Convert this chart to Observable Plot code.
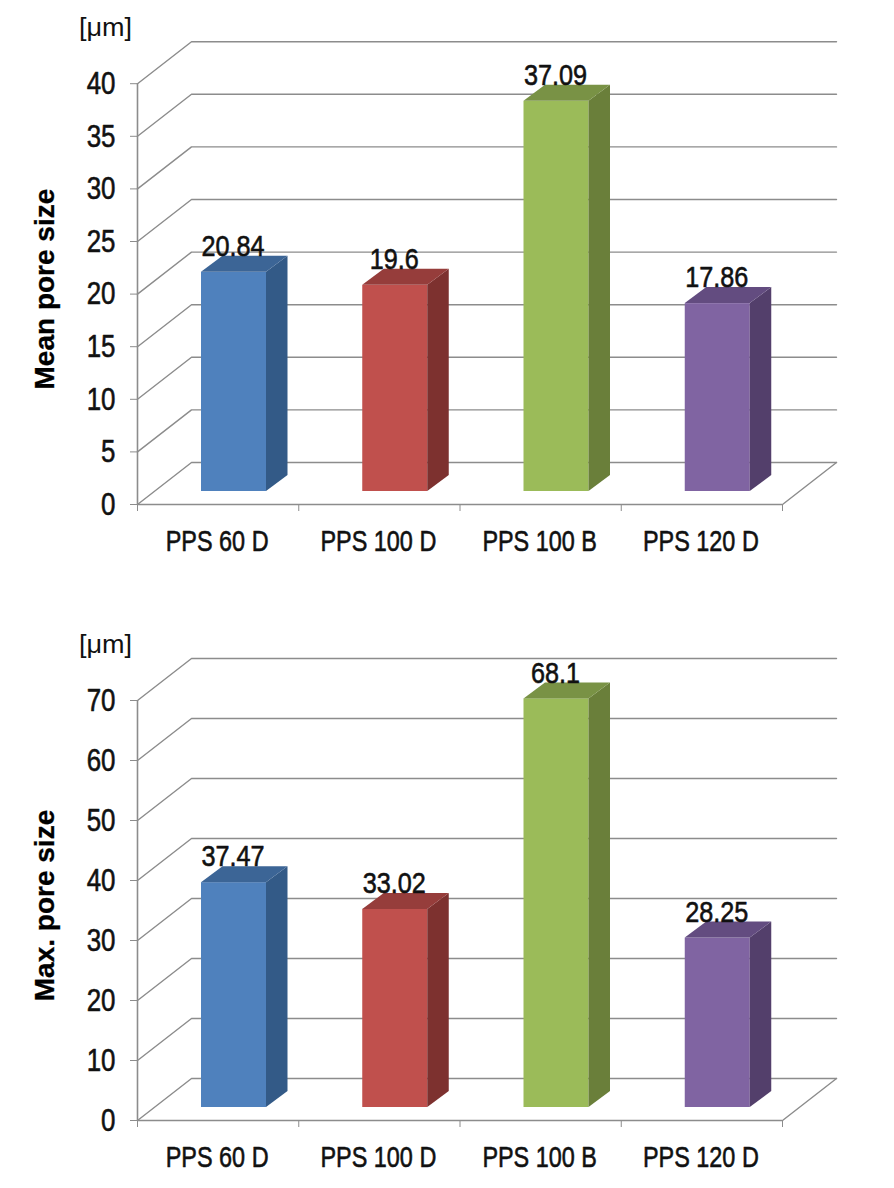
<!DOCTYPE html>
<html>
<head>
<meta charset="utf-8">
<script src="https://cdn.jsdelivr.net/npm/d3@7"></script>
<script src="https://cdn.jsdelivr.net/npm/@observablehq/plot@0.6"></script>
<style>
  html, body { margin: 0; padding: 0; background: #fff; }
  svg { display: block; }
</style>
</head>
<body>
<div id="top"></div>
<div id="bottom"></div>
<script>
const categories = ["PPS 60 D", "PPS 100 D", "PPS 100 B", "PPS 120 D"];
const meanValues = [20.84, 19.6, 37.09, 17.86];
const meanLabels = ["20.84", "19.6", "37.09", "17.86"];
const maxValues = [37.47, 33.02, 68.1, 28.25];
const maxLabels = ["37.47", "33.02", "68.1", "28.25"];
const meanTicks = [0, 5, 10, 15, 20, 25, 30, 35, 40];
const maxTicks = [0, 10, 20, 30, 40, 50, 60, 70];
const frontColors = ["#4F81BD", "#C0504D", "#9BBB59", "#8064A2"];
const sideColors = ["#335A87", "#7D312F", "#6A7F3A", "#533F6B"];
const topColors = ["#3C6596", "#963D3B", "#799245", "#634C80"];

const FONT = "'Liberation Sans', sans-serif";
const GRID = "#8c8c8c";

function chart(values, labels, ticks, title, yBottom, pxPerUnit) {
  const yMax = ticks[ticks.length - 1];
  const wallY = 42 / pxPerUnit;
  const wallX = 54 / 161.25;
  const barDepthY = 16 / pxPerUnit;
  const barDepthX = 21.5 / 161.25;
  const baseY = 13 / pxPerUnit;
  const barStart = 64 / 161.25;
  const barWidth = 65 / 161.25;

  const bars = categories.map((c, i) => ({
    i, c, v: values[i], label: labels[i],
    l: i + barStart, r: i + barStart + barWidth,
    b: baseY, t: baseY + values[i]
  }));
  const gridPts = ticks.flatMap(v => [
    {g: v, x: 0, y: v},
    {g: v, x: wallX, y: v + wallY},
    {g: v, x: categories.length + wallX, y: v + wallY}
  ]);
  const sidePts = bars.flatMap(d => [
    {i: d.i, x: d.r, y1: d.b, y2: d.t, f: sideColors[d.i]},
    {i: d.i, x: d.r + barDepthX, y1: d.b + barDepthY, y2: d.t + barDepthY, f: sideColors[d.i]}
  ]);
  const topPts = bars.flatMap(d => [
    {i: d.i, y: d.t, x1: d.l, x2: d.r, f: topColors[d.i]},
    {i: d.i, y: d.t + barDepthY, x1: d.l + barDepthX, x2: d.r + barDepthX, f: topColors[d.i]}
  ]);
  const n = categories.length;
  const plotTop = yBottom - (yMax * pxPerUnit + 42);

  return Plot.plot({
    width: 894,
    height: 594,
    marginLeft: 137, marginRight: 58, marginTop: plotTop, marginBottom: 594 - yBottom,
    style: {background: "#fff", fontFamily: FONT},
    color: {type: "identity"},
    x: {domain: [0, n + wallX], axis: null},
    y: {domain: [0, yMax + wallY], axis: null},
    marks: [
      Plot.line(gridPts, {x: "x", y: "y", z: "g", stroke: GRID, strokeWidth: 1.4}),
      Plot.line([{x: n, y: 0}, {x: n + wallX, y: wallY}], {x: "x", y: "y", stroke: GRID, strokeWidth: 1.4}),
      Plot.ruleX([0], {y1: 0, y2: yMax, stroke: GRID, strokeWidth: 1.6}),
      Plot.ruleY([0], {x1: 0, x2: n, stroke: GRID, strokeWidth: 1.6}),
      Plot.axisY({
        ticks, tickSize: 7, tickPadding: 15, anchor: "left", label: null,
        stroke: GRID, fontSize: 32, fill: "#111", fontFamily: FONT,
        className: "narrow-tick", textStroke: "#111", textStrokeWidth: 0.6
      }),
      Plot.axisX({
        ticks: d3.range(n + 1), tickSize: 7, tickFormat: () => "",
        stroke: GRID, label: null, anchor: "bottom"
      }),
      Plot.text(categories, {
        x: (d, i) => i + 0.5, y: 0, text: d => d, dy: 37, dx: -1,
        fontSize: 30, fill: "#111", fontFamily: FONT, stroke: "#111", strokeWidth: 0.6,
        className: "narrow-cat"
      }),
      Plot.rectY(bars, {x1: "l", x2: "r", y1: "b", y2: "t", fill: d => frontColors[d.i], inset: 0}),
      Plot.areaY(sidePts, {x: "x", y1: "y1", y2: "y2", z: "i", fill: "f"}),
      Plot.areaX(topPts, {y: "y", x1: "x1", x2: "x2", z: "i", fill: "f"}),
      Plot.text(bars, {
        x: d => (d.l + d.r) / 2, y: "t", text: "label", dy: -26, dx: -1,
        fontSize: 30, fill: "#111", fontFamily: FONT, stroke: "#111", strokeWidth: 0.6,
        className: "narrow-val"
      }),
      Plot.text([title], {
        x: 0, y: yMax / 2, text: d => d, rotate: -90, dx: -92, dy: -5,
        fontSize: 28, fontWeight: "bold", fill: "#000", fontFamily: FONT, stroke: "#000", strokeWidth: 0.3
      }),
      Plot.text(["[\u03BCm]"], {
        x: 0, y: yMax, text: d => d, dx: -32, dy: -56,
        fontSize: 26, fill: "#111", fontFamily: FONT,
        className: "wide-unit"
      })
    ]
  });
}

function condense(svg, selector, factor) {
  svg.querySelectorAll(selector).forEach(t => {
    const w = t.getComputedTextLength();
    if (w > 0) {
      t.setAttribute("textLength", (w * factor).toFixed(1));
      t.setAttribute("lengthAdjust", "spacingAndGlyphs");
    }
  });
}

const svgs = [
  chart(meanValues, meanLabels, meanTicks, "Mean pore size", 504, 10.52),
  chart(maxValues, maxLabels, maxTicks, "Max. pore size", 526, 6)
];
document.getElementById("top").append(svgs[0]);
document.getElementById("bottom").append(svgs[1]);
svgs.forEach(svg => {
  condense(svg, ".narrow-tick text", 0.81);
  condense(svg, ".narrow-cat text", 0.78);
  condense(svg, ".narrow-val text", 0.84);
  condense(svg, ".wide-unit text", 1.04);
});
</script>
</body>
</html>
